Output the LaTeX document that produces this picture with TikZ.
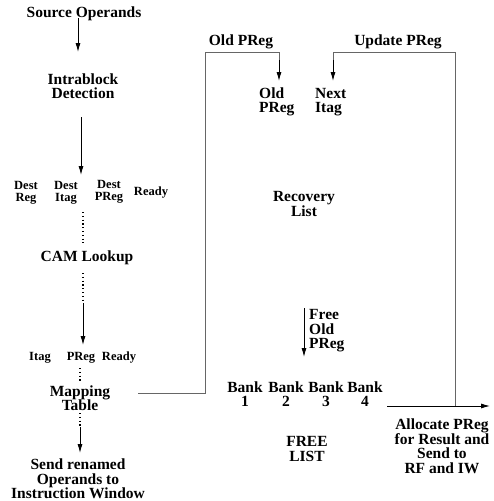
\documentclass[tikz,border=0pt]{standalone}
\usepackage{fontspec}
\setmainfont{Liberation Serif}
\usetikzlibrary{arrows.meta}
\begin{document}
\begin{tikzpicture}[x=1pt,y=-1pt,
  big/.style={font=\bfseries\fontsize{15.5}{14.5}\selectfont,inner sep=0pt,align=center},
  small/.style={font=\bfseries\fontsize{12.5}{12.5}\selectfont,inner sep=0pt,align=center},
  arr/.style={line width=0.9pt,-{Latex[length=9pt,width=5pt]}},
  dots/.style={line width=1.4pt,dash pattern=on 1.2pt off 2.6pt},
  wire/.style={line width=1pt,draw=black!60}]
\useasboundingbox (0,0) rectangle (494,501);
% left column
\node[big] (src) at (84,14) {Source Operands};
\node[big] (intra) at (83,86) {Intrablock\\Detection};
\node[small] (dreg) at (26,193) {Dest\\Reg};
\node[small] (ditag) at (66,193) {Dest\\Itag};
\node[small] (dpreg) at (109,192) {Dest\\PReg};
\node[small] (ready1) at (151,193) {Ready};
\node[big] (cam) at (87,258) {CAM Lookup};
\node[small] (itag) at (40,358) {Itag};
\node[small] (preg) at (81,358) {PReg};
\node[small] (ready2) at (119,358) {Ready};
\node[big] (map) at (80,398) {Mapping\\Table};
\node[big] (send) at (78,479) {Send renamed\\Operands to\\Instruction Window};
% connectors, left column
\coordinate (a1) at (78,18);  \coordinate (a2) at (78,52);
\draw[arr] (a1) -- (a2);
\coordinate (b1s) at (81,117); \coordinate (b2s) at (81,175);
\draw[arr] (b1s) -- (b2s);
\coordinate (c1) at (83,212); \coordinate (c2) at (83,243);
\draw[dots] (c1) -- (c2);
\coordinate (d1) at (83,273); \coordinate (d2) at (83,303); \coordinate (d3) at (83,345);
\draw[dots] (d1) -- (d2);
\draw[arr] (d2) -- (d3);
\coordinate (e1) at (80,368); \coordinate (e2) at (80,381);
\draw[dots] (e1) -- (e2);
\coordinate (g1) at (80,413); \coordinate (g2) at (80,427); \coordinate (g3) at (80,453);
\draw[dots] (g1) -- (g2);
\draw[arr] (g2) -- (g3);
% right part
\node[big] (oldlbl) at (241,42) {Old PReg};
\node[big] (updlbl) at (398,42) {Update PReg};
\node[big,anchor=west,align=left] (oldpreg) at (259,102) {Old\\PReg};
\node[big,anchor=west,align=left] (next) at (315,102) {Next\\Itag};
\node[big] (rec) at (304,204) {Recovery\\List};
\node[big,anchor=west,align=left] (free) at (309,331) {Free\\Old\\PReg};
\node[big] (bk1) at (245,394) {Bank\\1};
\node[big] (bk2) at (286,394) {Bank\\2};
\node[big] (bk3) at (326,394) {Bank\\3};
\node[big] (bk4) at (365,394) {Bank\\4};
\node[big] (fl) at (307,449) {FREE\\LIST};
\node[big] (alloc) at (442,446) {Allocate PReg\\for Result and\\Send to\\RF and IW};
\coordinate (m1) at (138,393);
\coordinate (m2) at (205,393);
\coordinate (m3) at (205,52);
\coordinate (m4) at (279,52);
\coordinate (m5) at (279,81);
\draw[wire] (m1) -- (m2) -- (m3) -- (m4) -- (279,70);
\draw[arr] (279,60) -- (m5);
\coordinate (u1) at (455,406);
\coordinate (u2) at (455,52);
\coordinate (u3) at (333,52);
\coordinate (u4) at (333,81);
\draw[wire] (u1) -- (u2) -- (u3) -- (333,70);
\draw[arr] (333,60) -- (u4);
\coordinate (h1) at (387,406);
\coordinate (h2) at (490,406);
\draw[arr] (h1) -- (h2);
\coordinate (f1) at (304,308);
\coordinate (f2) at (304,357);
\draw[arr] (f1) -- (f2);
\end{tikzpicture}
\end{document}
